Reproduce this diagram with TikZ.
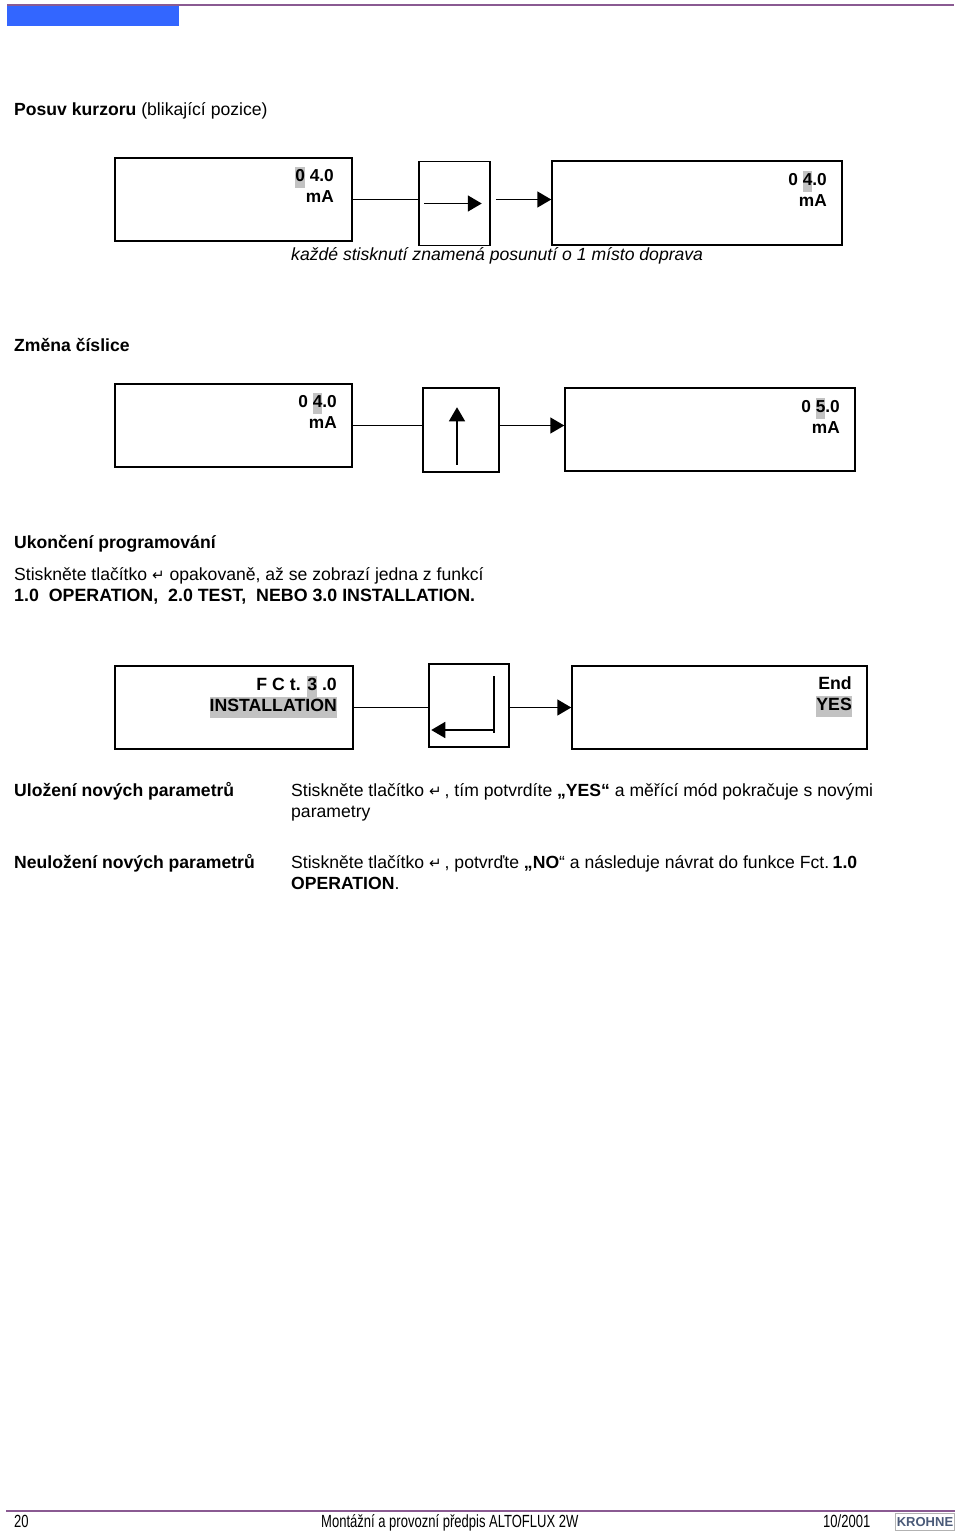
\documentclass[tikz,border=0pt]{standalone}
\usepackage{fontspec}
\setmainfont{Liberation Sans}
\newfontfamily\symfont{DejaVu Sans}
\usepackage{tikz}
\usetikzlibrary{positioning,arrows.meta,calc}
\definecolor{rulecol}{HTML}{8A5A92}
\definecolor{tabcol}{HTML}{3366FF}
\definecolor{logocol}{HTML}{4A5A78}
\newcommand{\hl}[1]{{\setlength{\fboxsep}{0pt}\colorbox{black!24}{\strut #1}}}
\newcommand{\retsym}{{\symfont\fontsize{15}{15}\selectfont ↵}}
\newcommand{\narrowtxt}[1]{\scalebox{0.74}[1]{#1}}

\begin{document}
\begin{tikzpicture}[x=1pt,y=-1pt,font=\fontsize{17.6}{21}\selectfont,
  screen/.style={draw,line width=1.5pt,inner sep=0pt},
  keybox/.style={draw,line width=1.5pt,inner sep=0pt},
  disp/.style={anchor=north east,align=right,inner sep=0pt,font=\fontsize{17.3}{21}\selectfont\bfseries},
  txt/.style={anchor=base west,inner sep=0pt},
  link/.style={line width=1.6pt},
  linkarrow/.style={line width=1.6pt,-{Triangle[length=14pt,width=16pt]}}]
\useasboundingbox (0,0) rectangle (960,1537);
% page head
\node[fill=tabcol,minimum width=172pt,minimum height=20pt,inner sep=0pt,anchor=north west] (tab) at (7,6) {};
\coordinate (headend) at (954,5);
\draw[rulecol,line width=1.2pt] (tab.north west |- headend) -- (headend);
% cursor
\node[txt] (t1) at (14,115) {\textbf{Posuv kurzoru} (blikající pozice)};
\node[screen,minimum width=237pt,minimum height=83pt] (a1) at (233.5,199.5) {};
\node[keybox,minimum width=71pt,minimum height=84pt] (k1) at (454.5,203.5) {};
\node[screen,minimum width=290pt,minimum height=84pt] (b1) at (697,203) {};
\node[disp] (a1t) at (334,167) {\hl{0} 4.0\\mA};
\node[disp] (b1t) at (827,171) {0 \hl{4}.0\\mA};
\draw[link] (a1.east) -- (k1.west |- a1.east);
\draw[linkarrow] ([xshift=5pt]k1.east |- a1.east) -- (b1.west |- a1.east);
\draw[linkarrow] ([xshift=6pt]k1.west) -- ([xshift=-9pt]k1.east);
\node[txt] (t2) at (291,260) {\textit{každé stisknutí znamená posunutí o 1 místo doprava}};
% digit
\node[txt] (t3) at (14,351) {\textbf{Změna číslice}};
\node[screen,minimum width=237pt,minimum height=83pt] (a2) at (233.5,425.5) {};
\node[keybox,minimum width=76pt,minimum height=84pt] (k2) at (461,430) {};
\node[screen,minimum width=290pt,minimum height=83pt] (b2) at (710,429.5) {};
\node[disp] (a2t) at (337,393) {0 \hl{4}.0\\mA};
\node[disp] (b2t) at (840,398) {0 \hl{5}.0\\mA};
\draw[link] (a2.east) -- (k2.west |- a2.east);
\draw[linkarrow] (k2.east |- a2.east) -- (b2.west |- a2.east);
\draw[linkarrow,line width=1.3pt] ([xshift=-4pt,yshift=8pt]k2.south) -- ([xshift=-4pt,yshift=-20pt]k2.north);
% end of programming
\node[txt] (t4) at (14,548) {\textbf{Ukončení programování}};
\node[txt] (t5) at (14,580) {Stiskněte tlačítko \retsym{} opakovaně, až se zobrazí jedna z funkcí};
\node[txt,font=\fontsize{17.8}{21}\selectfont] (t6) at (14,601) {\textbf{1.0\ \ OPERATION,\ \ 2.0 TEST,\ \ NEBO 3.0 INSTALLATION.}};
\node[screen,minimum width=238pt,minimum height=83pt] (a3) at (234,707.5) {};
\node[keybox,minimum width=80pt,minimum height=83pt] (k3) at (469,705.5) {};
\node[screen,minimum width=295pt,minimum height=83pt] (b3) at (719.5,707.5) {};
\node[disp,font=\fontsize{17.7}{21}\selectfont\bfseries] (a3t) at (337,675.5) {F C t. \hl{3} .0\\\hl{INSTALLATION}};
\node[disp,font=\fontsize{17.7}{21}\selectfont\bfseries] (b3t) at (852,676.5) {End\\\hl{YES}};
\draw[link] (a3.east) -- (k3.west |- a3.east);
\draw[linkarrow] (k3.east |- a3.east) -- (b3.west |- a3.east);
\coordinate (k3top) at (494,676);
\coordinate (k3bend) at (494,733);
\draw[line width=1.2pt] (k3top) -- (k3bend);
\draw[linkarrow] (k3bend |- 0,730) -- ([xshift=3pt]k3.west |- 0,730);
% save
\node[txt] (t7) at (14,796) {\textbf{Uložení nových parametrů}};
\node[txt] (t8) at (291,796) {Stiskněte tlačítko \retsym\hspace{3pt}, tím potvrdíte \textbf{„YES“} a měřící mód pokračuje s novými};
\node[txt] (t9) at (291,817) {parametry};
\node[txt] (t10) at (14,868) {\textbf{Neuložení nových parametrů}};
\node[txt] (t11) at (291,868) {Stiskněte tlačítko \retsym\hspace{3pt}, potvrďte \textbf{„NO}“ a následuje návrat do funkce Fct.\hspace{-3pt} \textbf{1.0}};
\node[txt] (t12) at (291,889) {\textbf{OPERATION}.};
% page foot
\node[draw=black!30,line width=1pt,minimum width=59pt,minimum height=17pt,inner sep=0pt,anchor=north west,font=\fontsize{13}{13}\selectfont\bfseries,text=logocol] (logo) at (895,1513) {KROHNE};
\coordinate (footstart) at (6,1511);
\draw[rulecol,line width=1.2pt] (footstart) -- (footstart -| logo.north east);
\node[txt] (f1) at (14,1527) {\narrowtxt{20}};
\node[txt] (f2) at (321,1527) {\narrowtxt{Montážní a provozní předpis ALTOFLUX 2W}};
\node[txt] (f3) at (823,1527) {\narrowtxt{10/2001}};
\end{tikzpicture}
\end{document}
